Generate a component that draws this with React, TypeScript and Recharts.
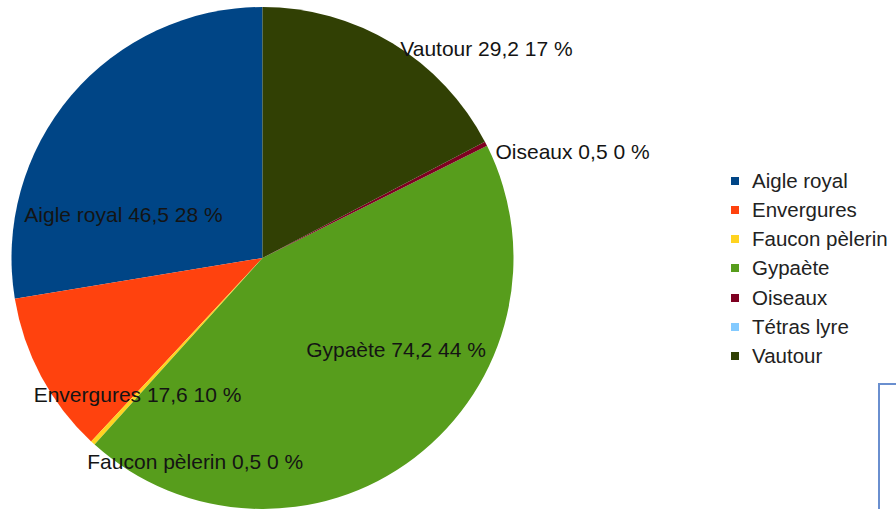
import { PieChart, Pie, Cell, Legend } from "recharts";

const categories = [
  "Aigle royal",
  "Envergures",
  "Faucon pèlerin",
  "Gypaète",
  "Oiseaux",
  "Tétras lyre",
  "Vautour",
];
const values = [46.5, 17.6, 0.5, 74.2, 0.5, 0, 29.2];
const colors = [
  "#004586",
  "#ff420e",
  "#ffd320",
  "#579d1c",
  "#7e0021",
  "#83caff",
  "#314004",
];

// where each label sits relative to its slice: angle shift (deg), radius factor, anchor
const labelPlacement = [
  { shift: 23, r: 0.58, anchor: "middle" },
  { shift: 19.3, r: 0.736, anchor: "middle" },
  { shift: 1.8, r: 1.07, anchor: "start" },
  { shift: 18.3, r: 0.645, anchor: "middle" },
  { shift: -2.6, r: 1.02, anchor: "start" },
  { shift: 0, r: 1.05, anchor: "start" },
  { shift: -2.1, r: 1.0, anchor: "start" },
];

const total = values.reduce((a, b) => a + b, 0);
const data = categories.map((name, i) => ({ name, value: values[i] }));

const RAD = Math.PI / 180;
const FONT = "'Liberation Sans', Arial, sans-serif";

function fmt(v: number) {
  return v.toFixed(1).replace(".", ",");
}

function renderLabel(props: any) {
  const { cx, cy, midAngle, outerRadius, index, value } = props;
  if (!value) return null;
  const p = labelPlacement[index];
  const a = (midAngle + p.shift) * RAD;
  const x = cx + outerRadius * p.r * Math.cos(a);
  const y = cy - outerRadius * p.r * Math.sin(a);
  const pct = Math.round((value / total) * 100);
  return (
    <text
      x={x}
      y={y}
      textAnchor={p.anchor}
      dominantBaseline="central"
      fill="#141414"
      fontSize={21}
      fontFamily={FONT}
    >
      {`${categories[index]} ${fmt(value)} ${pct} %`}
    </text>
  );
}

function LegendBox() {
  return (
    <div style={{ fontFamily: FONT, fontSize: 20.5, color: "#222" }}>
      {categories.map((c, i) => (
        <div
          key={c}
          style={{ display: "flex", alignItems: "center", height: 29.25 }}
        >
          <span
            style={{
              width: 8,
              height: 8,
              background: colors[i],
              marginRight: 13,
              display: "inline-block",
            }}
          />
          <span>{c}</span>
        </div>
      ))}
    </div>
  );
}

export default function App() {
  return (
    <div
      style={{
        position: "absolute",
        left: 0,
        top: 0,
        width: 896,
        height: 509,
        overflow: "hidden",
        background: "#fff",
      }}
    >
      <PieChart
        width={896}
        height={509}
        margin={{ top: 0, right: 0, bottom: 0, left: 0 }}
      >
        <Pie
          data={data}
          dataKey="value"
          nameKey="name"
          cx={262.5}
          cy={258}
          outerRadius={251}
          startAngle={90}
          endAngle={450}
          stroke="none"
          label={renderLabel}
          labelLine={false}
          isAnimationActive={false}
        >
          {data.map((d, i) => (
            <Cell key={d.name} fill={colors[i]} />
          ))}
        </Pie>
        <Legend
          content={<LegendBox />}
          wrapperStyle={{ position: "absolute", left: 731, top: 166, width: 170 }}
        />
      </PieChart>
      <div
        style={{
          position: "absolute",
          left: 878,
          top: 383,
          width: 40,
          height: 200,
          border: "2px solid #6a8fcf",
          boxSizing: "border-box",
        }}
      />
    </div>
  );
}
